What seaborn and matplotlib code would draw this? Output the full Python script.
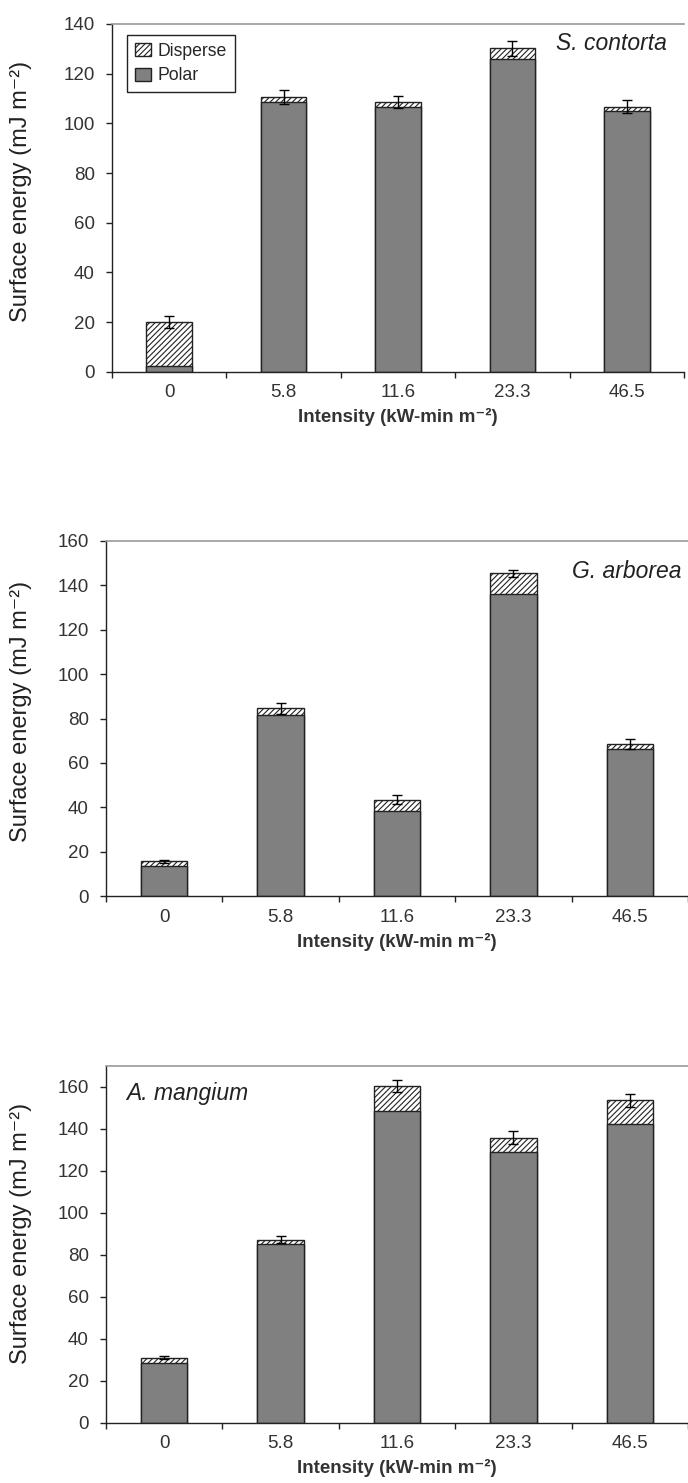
import numpy as np
import pandas as pd
import matplotlib
matplotlib.use('Agg')
import matplotlib.pyplot as plt
from matplotlib import font_manager
import seaborn as sns

intensity = ['0', '5.8', '11.6', '23.3', '46.5']

# S. contorta
sc_polar = [2.5, 108.5, 106.5, 125.8, 104.8]
sc_disperse = [17.6, 2.0, 2.0, 4.3, 1.9]
sc_err = [2.3, 2.8, 2.5, 3.2, 2.7]

# G. arborea
ga_polar = [13.5, 81.7, 38.3, 136.0, 66.4]
ga_disperse = [2.1, 2.9, 5.1, 9.4, 2.1]
ga_err = [0.7, 2.4, 2.1, 1.4, 2.1]

# A. mangium
am_polar = [28.6, 85.4, 148.4, 128.9, 142.2]
am_disperse = [2.5, 1.9, 11.9, 7.0, 11.5]
am_err = [0.7, 1.6, 2.9, 3.1, 3.1]

sns.set_theme(style='white')
plt.rcParams['font.family'] = ['Liberation Sans', 'DejaVu Sans']
plt.rcParams['hatch.linewidth'] = 0.8

names = {f.name for f in font_manager.fontManager.ttflist}
if 'Liberation Sans Narrow' in names:
    narrow = ['Liberation Sans Narrow', 'DejaVu Sans']
    tick_fs = 15
    xlab_fs = 16
else:
    narrow = ['Liberation Sans', 'DejaVu Sans']
    tick_fs = 13.5
    xlab_fs = 13.5

fig = plt.figure(figsize=(6.88, 14.83), dpi=100)

panels = [
    dict(pos=[0.1628, 0.7492, 0.8314, 0.2347], polar=sc_polar, disp=sc_disperse, err=sc_err,
         ymax=140, name='S. contorta', txy=(0.776, 0.945), ylc=(-0.14, 0.52), legend=True),
    dict(pos=[0.1541, 0.3958, 0.8459, 0.2394], polar=ga_polar, disp=ga_disperse, err=ga_err,
         ymax=160, name='G. arborea', txy=(0.80, 0.915), ylc=(-0.127, 0.52), legend=False),
    dict(pos=[0.1541, 0.0405, 0.8459, 0.2407], polar=am_polar, disp=am_disperse, err=am_err,
         ymax=170, name='A. mangium', txy=(0.034, 0.924), ylc=(-0.127, 0.53), legend=False),
]

for p in panels:
    ax = fig.add_axes(p['pos'])
    df = pd.DataFrame({'intensity': intensity, 'polar': p['polar'], 'disperse': p['disp']})
    df['total'] = df['polar'] + df['disperse']

    # total bar hatched, polar part drawn over it
    sns.barplot(data=df, x='intensity', y='total', color='white', edgecolor='#222222',
                linewidth=1, hatch='//////', width=0.4, saturation=1, errorbar=None, ax=ax)
    sns.barplot(data=df, x='intensity', y='polar', color='#808080', edgecolor='#222222',
                linewidth=1, width=0.4, saturation=1, errorbar=None, ax=ax)
    ax.errorbar(np.arange(len(intensity)), df['total'], yerr=p['err'], fmt='none',
                ecolor='black', elinewidth=1, capsize=3.5, capthick=1, zorder=5)

    ax.set_xlim(-0.5, 4.5)
    ax.set_ylim(0, p['ymax'])
    ax.set_yticks(np.arange(0, min(p['ymax'], 160) + 1, 20))
    ax.set_xticks(np.arange(5))
    ax.set_xticks(np.arange(-0.5, 5, 1), minor=True)
    ax.set_xticklabels(intensity)

    for sp in ['left', 'bottom']:
        ax.spines[sp].set_color('#222222')
        ax.spines[sp].set_linewidth(1)
    ax.spines['top'].set_color('#9a9a9a')
    ax.spines['top'].set_linewidth(1.2)
    ax.spines['right'].set_visible(False)

    ax.tick_params(axis='x', which='major', length=0, pad=9, labelsize=tick_fs,
                   labelcolor='#333333')
    ax.tick_params(axis='x', which='minor', length=4.5, width=1, color='#222222',
                   direction='out', bottom=True)
    ax.tick_params(axis='y', length=4.5, width=1, color='#222222', direction='out',
                   left=True, pad=8, labelsize=tick_fs, labelcolor='#333333')
    for lab in ax.get_xticklabels() + ax.get_yticklabels():
        lab.set_family(narrow)

    ax.set_xlabel('Intensity (kW-min m\u207b\u00b2)', family=narrow,
                  fontweight='bold', fontsize=xlab_fs, color='#333333', labelpad=5)
    ax.set_ylabel('Surface energy (mJ m\u207b\u00b2)', fontsize=17, color='#222222')
    ax.yaxis.set_label_coords(*p['ylc'])

    ax.text(p['txy'][0], p['txy'][1], p['name'], transform=ax.transAxes, ha='left',
            va='center', fontsize=16.5, style='italic', color='#222222')

    if p['legend']:
        handles = [ax.containers[0], ax.containers[1]]
        leg = ax.legend(handles, ['Disperse', 'Polar'], loc='upper left',
                        bbox_to_anchor=(0.026, 0.968), borderaxespad=0, fontsize=12.7,
                        frameon=True, fancybox=False, framealpha=1, edgecolor='#222222',
                        handlelength=0.9, handleheight=0.75, handletextpad=0.4,
                        labelspacing=0.42, borderpad=0.45)
        leg.get_frame().set_linewidth(1)
    elif ax.get_legend() is not None:
        ax.get_legend().remove()

fig.savefig('out.png', dpi=100)
